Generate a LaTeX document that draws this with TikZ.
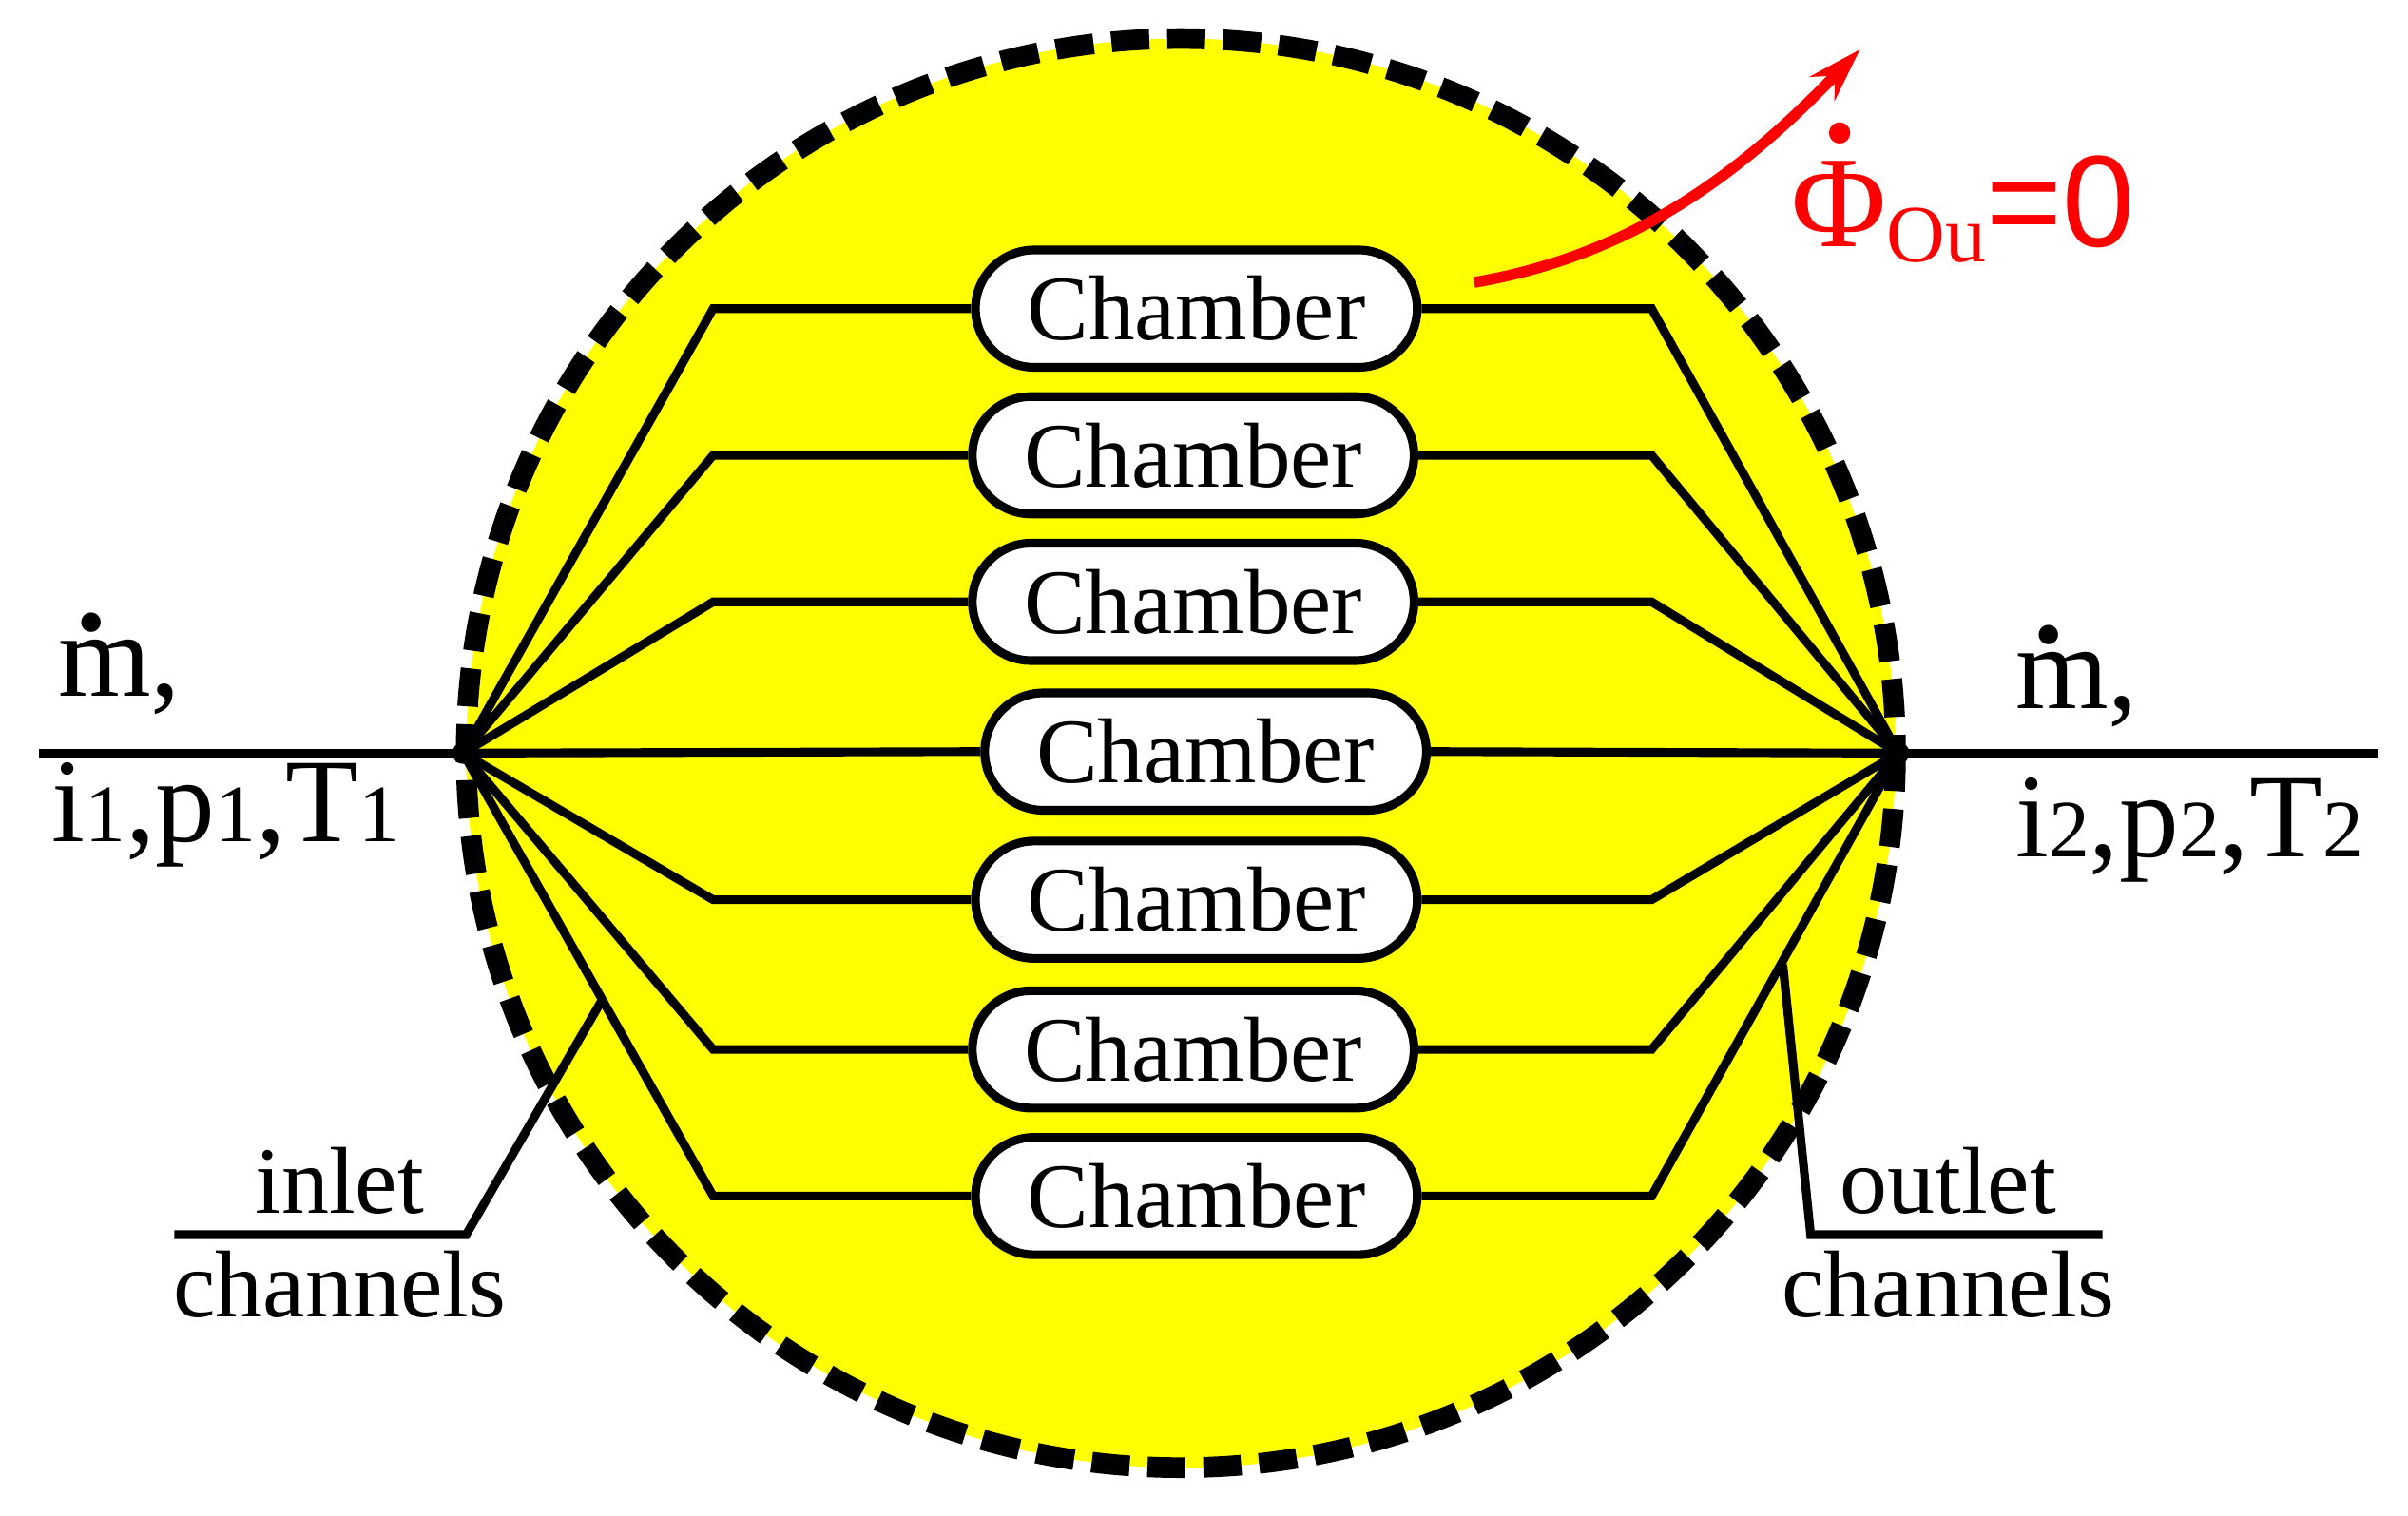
\documentclass[tikz,border=0pt]{standalone}
\usepackage{fontspec}
\setmainfont{Liberation Serif}
\newfontfamily\sansf{Liberation Sans}
\usetikzlibrary{arrows.meta}
\definecolor{yel}{RGB}{255,255,0}
\begin{document}
\begin{tikzpicture}[x=0.01cm,y=-0.01cm,
  chamb/.style={draw,line width=1.6pt,fill=white,rounded corners=0.38cm,minimum width=2.86cm,minimum height=0.76cm,inner sep=0pt,font=\fontsize{17}{17}\selectfont},
  wire/.style={line width=1.6pt},
  lbl/.style={font=\fontsize{17.5}{17.5}\selectfont,inner sep=0pt},
  big/.style={font=\fontsize{22}{22}\selectfont,inner sep=0pt}]
\useasboundingbox (0,0) rectangle (1560,982);
\fill[yel] (765,488) circle[radius=463];
\coordinate (L) at (300,488);
\coordinate (R) at (1230,488);
\coordinate (W) at (25,488);
\coordinate (E) at (1540,488);
\draw[wire] (W) -- (L);
\draw[wire] (R) -- (E);
\foreach \i/\y/\cx in {1/200/775,2/295/773,3/390/773,5/583/775,6/680/773,7/775/775}{
  \node[chamb] (c\i) at (\cx,\y) {Chamber};
  \draw[wire] (L) -- (462,\y) -- (c\i.west);
  \draw[wire] (c\i.east) -- (1070,\y) -- (R);
}
\node[chamb] (c4) at (781,487) {Chamber};
\draw[wire] (L) -- (c4.west);
\draw[wire] (c4.east) -- (R);
\draw[line width=3.8pt,dash pattern=on 7pt off 3.3pt] (765,488) circle[radius=463];
\fill (L) circle[radius=7];
\fill (R) circle[radius=7];
% labels
\node[big,anchor=west] (m1) at (37,430) {m\llap{\raisebox{0.55em}{\hbox to 0.5em{\hss\textbf{.}\hss}}\hspace{0.25em}},};
\node[big,anchor=west] (s1) at (33,528) {i{\fontsize{15}{15}\selectfont 1},p{\fontsize{15}{15}\selectfont 1},T{\fontsize{15}{15}\selectfont 1}};
\node[big,anchor=west] (m2) at (1305,438) {m\llap{\raisebox{0.55em}{\hbox to 0.5em{\hss\textbf{.}\hss}}\hspace{0.25em}},};
\node[big,anchor=west] (s2) at (1305,538) {i{\fontsize{15}{15}\selectfont 2},p{\fontsize{15}{15}\selectfont 2},T{\fontsize{15}{15}\selectfont 2}};
\node[lbl] (in1) at (220,765) {inlet};
\node[lbl] (in2) at (220,832) {channels};
\node[lbl] (out1) at (1262,765) {outlet};
\node[lbl] (out2) at (1262,832) {channels};
\coordinate (ia) at (113,800); \coordinate (ib) at (302,800); \coordinate (ic) at (390,648);
\coordinate (oa) at (1362,800); \coordinate (ob) at (1173,800); \coordinate (oc) at (1155,625);
\draw[wire] (ia) -- (ib) -- (ic);
\draw[wire] (oa) -- (ob) -- (oc);
% red arrow
\coordinate (ra) at (955,183);
\coordinate (rb) at (1205,32);
\draw[red,line width=2pt,-{Stealth[length=0.35cm,width=0.22cm]}] (ra) .. controls (1060,165) and (1130,110) .. (rb);
\node[red,anchor=west,inner sep=0pt,font=\fontsize{24}{24}\selectfont] (phi) at (1160,125) {\rlap{\hbox to 0.75em{\hss\raisebox{0.8em}{\textbf{.}}\hss}}Φ\raisebox{-0.12em}{\fontsize{15}{15}\selectfont Ou}{\sansf =0}};
\end{tikzpicture}
\end{document}
